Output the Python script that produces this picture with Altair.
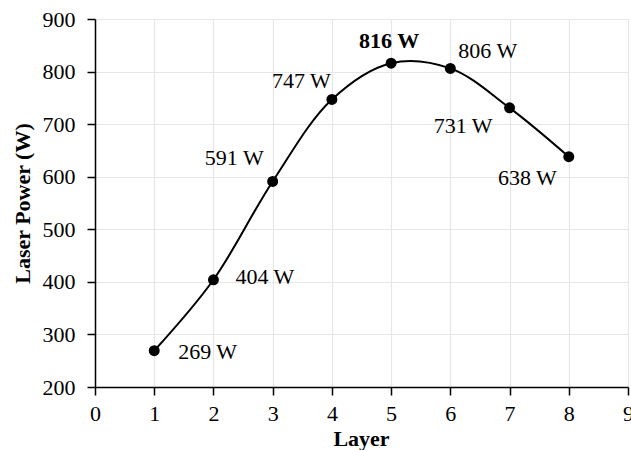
import altair as alt
import pandas as pd

layers = [1, 2, 3, 4, 5, 6, 7, 8]
power = [269, 404, 591, 747, 816, 806, 731, 638]
labels = ["269 W", "404 W", "591 W", "747 W", "816 W", "806 W", "731 W", "638 W"]

df = pd.DataFrame({"layer": layers, "power": power, "label": labels})

FONT = "Liberation Serif"
FS = 22

# label placement styling (align, dx, dy, weight) per point
label_style = [
    ("left", 24, 1, "normal"),
    ("left", 22, -3, "normal"),
    ("right", -9, -23, "normal"),
    ("right", -1, -18, "normal"),
    ("center", -2, -22, "bold"),
    ("left", 8, -17, "normal"),
    ("right", -17, 18, "normal"),
    ("right", -12, 21, "normal"),
]

x_enc = alt.X(
    "layer:Q",
    scale=alt.Scale(domain=[0, 9], nice=False, zero=False),
    axis=alt.Axis(
        title="Layer", values=list(range(0, 10)), format="d",
        labelOverlap=False, labelFlush=False,
        titleX=266, titleY=51, titleAlign="center", titleBaseline="middle",
    ),
)
y_enc = alt.Y(
    "power:Q",
    scale=alt.Scale(domain=[200, 900], nice=False, zero=False),
    axis=alt.Axis(
        title="Laser Power (W)", values=list(range(200, 1000, 100)), format="d",
        labelOverlap=False, labelFlush=False,
        titleX=-73, titleY=184, titleAlign="center", titleBaseline="middle", titleAngle=270,
    ),
)

base = alt.Chart(df)
line = base.mark_line(interpolate="catmull-rom", color="black", strokeWidth=2).encode(x=x_enc, y=y_enc)
pts = base.mark_circle(color="black", opacity=1, size=120).encode(x="layer:Q", y="power:Q")

texts = []
for i, (al, dx, dy, wt) in enumerate(label_style):
    t = base.transform_filter(alt.datum.layer == layers[i]).mark_text(
        align=al, baseline="middle", dx=dx, dy=dy, font=FONT, fontSize=FS,
        fontWeight=wt, color="black",
    ).encode(x="layer:Q", y="power:Q", text="label:N")
    texts.append(t)

chart = alt.layer(line, pts, *texts).properties(
    width=533, height=368,
    autosize=alt.AutoSizeParams(type="none"),
    padding={"left": 95, "top": 19, "right": 3, "bottom": 63},
).configure_view(stroke=None).configure_axis(
    labelFont=FONT, labelFontSize=FS, labelColor="black",
    titleFont=FONT, titleFontSize=FS, titleFontWeight="bold", titleColor="black",
    gridColor="#e6e6e6", gridWidth=1.2,
    domainColor="black", domainWidth=1.5,
    tickColor="black", tickSize=8, tickWidth=1.5,
).configure_axisY(labelPadding=12).configure_axisX(labelPadding=8)

chart.save("out.html", embed_options={"renderer": "svg", "actions": False})
